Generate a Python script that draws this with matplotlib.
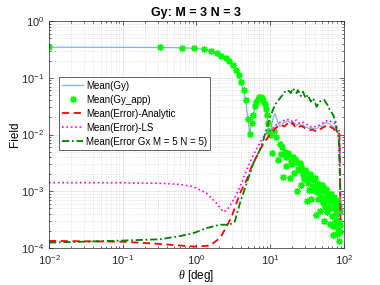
import numpy as np
import matplotlib
matplotlib.use('Agg')
import matplotlib.pyplot as plt
from matplotlib.ticker import LogLocator, NullFormatter

# values (log10 of the field)
theta_gy = [0.01, 0.32, 0.63, 0.94, 1.25, 1.56, 1.87, 2.18, 2.49, 2.80,
            3.11, 3.42, 3.73, 4.04, 4.35, 4.66, 4.97, 5.28, 5.59, 5.90,
            6.21, 6.52, 6.83, 7.14, 7.45, 7.76, 8.07, 8.38, 8.69, 9.00,
            9.31, 9.62, 9.93, 10.9, 11.6, 12.3, 13.0, 13.6, 14.9, 16.0, 17.4,
            18.5, 19.5, 20.3, 21.5, 22.8, 24.0, 25.0, 26.7, 28.0, 29.6,
            31.2, 33.0, 34.7, 36.5, 38.3, 40.4, 42.6, 45.0, 47.0, 49.8,
            52.5, 55.0, 58.2, 60.8, 64.5, 67.5, 71.6, 74.5, 78.0, 81.0,
            84.0, 87.0, 89.9]
gy_log10 = [-0.46, -0.465, -0.47, -0.48, -0.50, -0.525, -0.565, -0.61, -0.65, -0.695,
            -0.77, -0.86, -0.955, -1.07, -1.22, -1.40, -1.72, -1.99, -1.80, -1.66,
            -1.50, -1.42, -1.37, -1.34, -1.34, -1.36, -1.41, -1.47, -1.55, -1.66,
            -1.80, -1.93, -2.00, -1.72, -1.63, -1.72, -1.82, -1.86, -1.80, -1.78, -1.76,
            -1.79, -1.80, -1.83, -1.80, -1.84, -1.82, -1.80, -1.85, -1.83, -1.86,
            -1.87, -1.89, -1.89, -1.88, -1.90, -1.89, -1.90, -1.87, -1.85, -1.86,
            -1.82, -1.80, -1.79, -1.80, -1.82, -1.84, -1.86, -1.87, -1.90, -1.93,
            -1.98, -2.05, -2.50]

# Gy_app equals Gy below ~10 deg, then scatters downwards
app_theta_tail = [10.6, 11.3, 12.0, 12.7, 13.4, 14.2, 15.0, 15.8, 16.6, 17.5,
                  18.4, 19.3, 20.2, 21.2, 22.2, 23.2, 24.3, 25.4, 26.5, 27.6,
                  28.8, 30.0, 31.2, 32.4, 33.6, 34.9, 36.2, 37.5, 38.8, 40.1,
                  41.5, 42.9, 44.3, 45.7, 47.1, 48.5, 49.9, 51.3, 52.7, 54.1,
                  55.5, 56.9, 58.3, 59.7, 61.1, 62.5, 63.9, 65.3, 66.7, 68.1,
                  69.5, 70.9, 72.3, 73.7, 75.1, 76.5, 77.9, 79.3, 80.7, 82.1,
                  83.5, 84.9, 86.3, 87.7, 89.1,
                  14.6, 16.2, 18.0, 19.8, 21.7, 23.7, 26.0, 28.2, 30.6, 33.0,
                  35.5, 38.1, 40.8, 43.6, 46.4, 49.2, 52.0, 54.8, 57.6, 60.4,
                  63.2, 66.0, 68.8, 71.6, 74.4, 77.2, 80.0, 82.8, 85.6, 88.4]
app_tail_log10 = [-2.33, -1.93, -2.05, -2.45, -2.16, -2.35, -2.75, -2.30, -2.55, -2.33,
                  -2.77, -2.47, -2.39, -2.67, -2.49, -3.00, -2.63, -2.51, -2.89, -2.65,
                  -2.79, -2.63, -3.17, -2.77, -2.97, -2.69, -3.14, -2.79, -2.97, -2.77,
                  -3.42, -2.90, -3.14, -2.87, -3.34, -3.00, -2.89, -3.20, -2.98, -3.52,
                  -3.14, -2.96, -3.37, -3.09, -3.27, -3.05, -3.57, -3.17, -3.05, -3.44,
                  -3.14, -3.77, -3.30, -3.10, -3.56, -3.23, -3.41, -3.18, -3.75, -3.34,
                  -3.18, -3.53, -3.88, -3.35, -3.60,
                  -2.22, -2.40, -2.36, -2.52, -2.44, -2.60, -2.55, -2.72, -2.66, -2.85,
                  -2.74, -2.90, -2.80, -3.02, -2.92, -3.10, -2.93, -3.28, -3.02, -3.18,
                  -3.08, -3.30, -3.12, -3.62, -3.16, -3.50, -3.22, -3.66, -3.26, -3.72]

theta_an = [0.01, 0.1, 0.32, 0.63, 0.94, 1.5, 2.08, 2.57, 3.0, 3.89,
            4.79, 5.6, 7.26, 8.5, 10.0, 10.8, 11.6, 12.8, 14.2, 15.5,
            17.4, 19.0, 20.3, 21.5, 23.0, 25.0, 27.0, 29.6, 32.0, 34.7,
            37.0, 40.0, 42.6, 46.0, 49.8, 55.0, 58.2, 60.8, 64.5, 68.0,
            71.6, 74.5, 78.0, 82.0, 87.0, 89.9]
an_log10 = [-3.876, -3.89, -3.93, -3.96, -3.975, -3.96, -3.83, -3.62, -3.45, -3.036,
            -2.80, -2.567, -2.27, -2.12, -2.0, -1.95, -1.89, -1.86, -1.83, -1.86,
            -1.80, -1.83, -1.79, -1.86, -1.83, -1.86, -1.85, -1.89, -1.90, -1.92,
            -1.91, -1.93, -1.95, -1.92, -1.89, -1.86, -1.83, -1.833, -1.86, -1.88,
            -1.89, -1.92, -1.92, -1.95, -2.0, -3.5]

theta_ls = [0.01, 0.1, 0.32, 0.6, 0.906, 1.37, 1.87, 2.3, 2.57, 3.0,
            3.5, 3.89, 4.79, 5.9, 7.26, 8.5, 10.0, 12.0, 14.2, 16.8,
            18.5, 20.3, 22.8, 25.0, 27.0, 29.6, 32.0, 34.7, 37.5, 40.4,
            43.5, 47.0, 51.0, 55.0, 60.8, 64.0, 67.5, 71.0, 74.5, 78.0,
            82.0, 87.0, 89.9]
ls_log10 = [-2.849, -2.85, -2.86, -2.88, -2.92, -3.036, -3.21, -3.36, -3.34, -3.21,
            -3.05, -2.92, -2.63, -2.36, -2.15, -2.0, -1.93, -1.833, -1.774, -1.73,
            -1.745, -1.774, -1.745, -1.80, -1.78, -1.80, -1.83, -1.862, -1.85, -1.862,
            -1.85, -1.833, -1.80, -1.774, -1.745, -1.76, -1.774, -1.79, -1.80, -1.85,
            -1.88, -1.95, -3.5]

theta_gx = [0.01, 0.1, 0.32, 0.6, 0.906, 1.37, 2.08, 2.8, 3.3, 3.89,
            4.79, 5.9, 7.26, 8.07, 9.0, 10.0, 11.0, 12.0, 13.6, 15.9,
            17.4, 19.0, 20.3, 22.8, 23.8, 25.9, 27.9, 30.2, 32.3, 35.6,
            38.4, 42.6, 47.0, 54.0, 60.0, 64.5, 71.6, 77.0, 79.5, 85.0,
            89.9]
gx_log10 = [-3.906, -3.87, -3.847, -3.79, -3.74, -3.65, -3.59, -3.59, -3.54, -3.21,
            -2.86, -2.51, -2.27, -2.10, -1.88, -1.69, -1.55, -1.45, -1.36, -1.245,
            -1.216, -1.27, -1.186, -1.27, -1.216, -1.32, -1.245, -1.36, -1.30, -1.42,
            -1.36, -1.51, -1.42, -1.39, -1.48, -1.57, -1.656, -1.774, -1.92, -2.05,
            -3.1]

labels = ['Mean(Gy)', 'Mean(Gy_app)', 'Mean(Error)-Analytic',
          'Mean(Error)-LS', 'Mean(Error Gx M = 5 N = 5)']

n_low = 33
app_theta = theta_gy[:n_low] + app_theta_tail
app_vals = 10 ** np.array(gy_log10[:n_low] + app_tail_log10)

plt.rcParams['font.family'] = ['Liberation Sans', 'DejaVu Sans']
plt.rcParams['mathtext.fontset'] = 'custom'
plt.rcParams['mathtext.rm'] = 'Liberation Sans'
plt.rcParams['mathtext.it'] = 'Liberation Serif:italic'

fig = plt.figure(figsize=(3.8, 2.85), dpi=100)
ax = fig.add_axes([0.129, 0.130, 0.776, 0.796])

ax.plot(theta_gy, 10 ** np.array(gy_log10), color='#7db5e3', lw=0.9, label=labels[0])
ax.plot(app_theta, app_vals, ls='none', marker=(8, 2, 0), ms=5, mew=0.9,
        color='#00ff00', label=labels[1])
ax.plot(theta_an, 10 ** np.array(an_log10), color='#ff0000', ls=(0, (4, 2.5)), lw=1.3,
        label=labels[2])
ax.plot(theta_ls, 10 ** np.array(ls_log10), color='#ff00ff', ls=':', lw=1.2,
        label=labels[3])
ax.plot(theta_gx, 10 ** np.array(gx_log10), color='#008000', ls=(0, (4, 1.5, 1, 1.5)),
        lw=1.3, label=labels[4])

ax.set_xscale('log')
ax.set_yscale('log')
ax.set_xlim(1e-2, 1e2)
ax.set_ylim(1e-4, 1e0)
ax.xaxis.set_minor_locator(LogLocator(base=10, subs=np.arange(2, 10), numticks=20))
ax.yaxis.set_minor_locator(LogLocator(base=10, subs=np.arange(2, 10), numticks=20))
ax.xaxis.set_minor_formatter(NullFormatter())
ax.yaxis.set_minor_formatter(NullFormatter())

ax.grid(True, which='major', color='#262626', alpha=0.15, lw=0.5)
ax.grid(True, which='minor', color='#262626', alpha=0.2, lw=0.5, ls=':')
ax.tick_params(which='both', direction='in', top=True, right=True,
               colors='#262626', labelsize=8, width=0.5)
ax.tick_params(which='major', length=3)
ax.tick_params(which='minor', length=1.5)
for s in ax.spines.values():
    s.set_color('#262626')
    s.set_linewidth(0.5)

ax.set_title('Gy: M = 3 N = 3', fontsize=9, fontweight='bold', pad=4)
ax.set_ylabel('Field', fontsize=8.5, labelpad=0)
ax.set_xlabel(r'$\it{\theta}$ [deg]', fontsize=8.5, labelpad=1)

leg = ax.legend(loc='upper left', bbox_to_anchor=(0.034, 0.753), borderaxespad=0,
                fontsize=7, numpoints=1, handlelength=2.1, handletextpad=0.3,
                labelspacing=0.42, borderpad=0.35, fancybox=False, framealpha=1)
leg.get_frame().set_edgecolor('#262626')
leg.get_frame().set_linewidth(0.5)

fig.savefig('out.png', dpi=100)
